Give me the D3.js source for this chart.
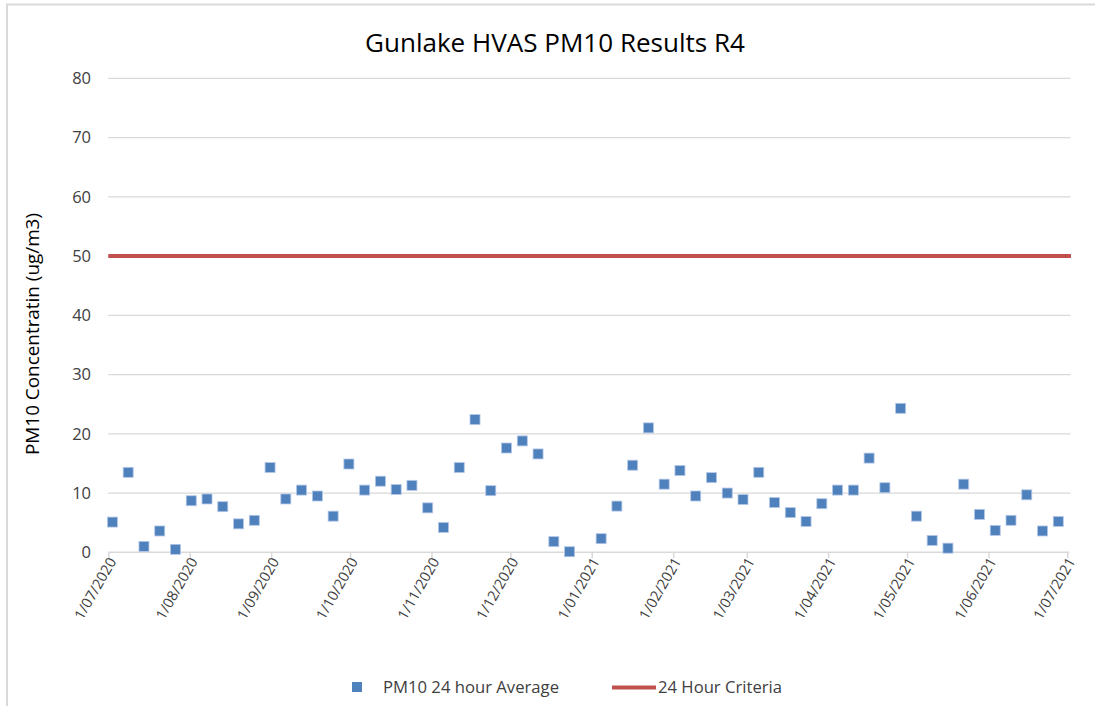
<!DOCTYPE html>
<html>
<head>
<meta charset="utf-8">
<script src="https://cdn.jsdelivr.net/npm/d3@7"></script>
<style>
  html, body { margin: 0; padding: 0; background: #fff; }
  svg text { font-family: "Open Sans", "Liberation Sans", sans-serif; fill: #404040; }
</style>
</head>
<body>
<svg id="chart" width="1095" height="706"></svg>
<script>
const sampleDates = [
  "2020-07-02","2020-07-08","2020-07-14","2020-07-20","2020-07-26",
  "2020-08-01","2020-08-07","2020-08-13","2020-08-19","2020-08-25",
  "2020-08-31","2020-09-06","2020-09-12","2020-09-18","2020-09-24",
  "2020-09-30","2020-10-06","2020-10-12","2020-10-18","2020-10-24",
  "2020-10-30","2020-11-05","2020-11-11","2020-11-17","2020-11-23",
  "2020-11-29","2020-12-05","2020-12-11","2020-12-17","2020-12-23",
  "2021-01-04","2021-01-10","2021-01-16","2021-01-22","2021-01-28",
  "2021-02-03","2021-02-09","2021-02-15","2021-02-21","2021-02-27",
  "2021-03-05","2021-03-11","2021-03-17","2021-03-23","2021-03-29",
  "2021-04-04","2021-04-10","2021-04-16","2021-04-22","2021-04-28",
  "2021-05-04","2021-05-10","2021-05-16","2021-05-22","2021-05-28",
  "2021-06-03","2021-06-09","2021-06-15","2021-06-21","2021-06-27"
];
const pm10Values = [
  5.1, 13.5, 1.0, 3.6, 0.5,
  8.7, 9.0, 7.7, 4.8, 5.4,
  14.3, 9.0, 10.5, 9.5, 6.1,
  14.9, 10.5, 12.0, 10.6, 11.3,
  7.5, 4.2, 14.3, 22.4, 10.4,
  17.6, 18.8, 16.6, 1.8, 0.1,
  2.3, 7.8, 14.7, 21.0, 11.5,
  13.8, 9.5, 12.6, 10.0, 8.9,
  13.5, 8.4, 6.7, 5.2, 8.2,
  10.5, 10.5, 15.9, 10.9, 24.3,
  6.1, 2.0, 0.7, 11.5, 6.4,
  3.7, 5.4, 9.7, 3.6, 5.2
];
const criteriaValue = 50;
const xTickDates = [
  "2020-07-01","2020-08-01","2020-09-01","2020-10-01","2020-11-01","2020-12-01",
  "2021-01-01","2021-02-01","2021-03-01","2021-04-01","2021-05-01","2021-06-01","2021-07-01"
];
const yTicks = [0, 10, 20, 30, 40, 50, 60, 70, 80];
const titleText = "Gunlake HVAS PM10 Results R4";
const yLabel = "PM10 Concentratin (ug/m3)";
const seriesNames = ["PM10 24 hour Average", "24 Hour Criteria"];

const parse = d3.timeParse("%Y-%m-%d");
const fmt = d => `${d.getDate()}/${d3.timeFormat("%m/%Y")(d)}`;
const data = sampleDates.map((d, i) => ({ date: parse(d), value: pm10Values[i] }));
const ticks = xTickDates.map(parse);

const svg = d3.select("#chart");
const x = d3.scaleTime().domain([parse("2020-07-01"), parse("2021-07-01")]).range([108.3, 1067.3]);
const y = d3.scaleLinear().domain([0, 80]).range([552.3, 78.3]);

// outer border
svg.append("path").attr("d", "M7,712 V4.5 H1100").attr("fill", "none")
  .attr("stroke", "#d9d9d9").attr("stroke-width", 2);

// title
svg.append("text").attr("x", 555).attr("y", 52).attr("text-anchor", "middle")
  .style("font-size", "25px").style("fill", "#000")
  .attr("textLength", 380).attr("lengthAdjust", "spacingAndGlyphs").text(titleText);

// gridlines
svg.append("g").selectAll("line").data(yTicks.filter(t => t > 0)).join("line")
  .attr("x1", 108.3).attr("x2", 1070.5)
  .attr("y1", d => y(d)).attr("y2", d => y(d))
  .attr("stroke", "#d9d9d9").attr("stroke-width", 1.3);

// y axis labels
const yAxis = d3.axisLeft(y).tickValues(yTicks).tickSize(0).tickPadding(0);
const gy = svg.append("g").attr("transform", "translate(91,0)").call(yAxis);
gy.select(".domain").remove();
gy.selectAll("text").style("font-size", "16.5px").style("fill", "#404040")
  .style("font-family", "'Open Sans', 'Liberation Sans', sans-serif");

// x axis
const xAxis = d3.axisBottom(x).tickValues(ticks).tickSize(6).tickFormat(fmt);
const gx = svg.append("g").attr("transform", `translate(0,${y(0)})`).call(xAxis);
gx.select(".domain").attr("d", `M${x.range()[0]},0H${x.range()[1] + 2}`)
  .attr("stroke", "#d9d9d9").attr("stroke-width", 1.5);
gx.selectAll(".tick line").attr("stroke", "#d9d9d9").attr("stroke-width", 1.5);
gx.selectAll("text")
  .style("font-size", "14.5px").style("fill", "#404040")
  .style("font-family", "'Open Sans', 'Liberation Sans', sans-serif")
  .attr("text-anchor", "end")
  .attr("dy", null).attr("y", 0)
  .attr("transform", "translate(8,9) rotate(-60)");

// y label
svg.append("text").attr("transform", "translate(39,334) rotate(-90)")
  .attr("text-anchor", "middle").style("font-size", "18.5px").style("fill", "#000")
  .attr("textLength", 242).attr("lengthAdjust", "spacingAndGlyphs")
  .text(yLabel);

// criteria line
svg.append("line").attr("x1", x.range()[0]).attr("x2", 1071)
  .attr("y1", y(criteriaValue)).attr("y2", y(criteriaValue))
  .attr("stroke", "#c0504d").attr("stroke-width", 4);

// points
const ms = 10;
svg.append("g").selectAll("rect").data(data).join("rect")
  .attr("x", d => x(d.date) - ms / 2 + 1.5).attr("y", d => y(d.value) - ms / 2)
  .attr("width", ms).attr("height", ms)
  .attr("fill", "#4f81bd").attr("stroke", "#b4c7e7").attr("stroke-width", 0.8);

// legend
const lg = svg.append("g");
lg.append("rect").attr("x", 352).attr("y", 682).attr("width", 10).attr("height", 10)
  .attr("fill", "#4f81bd");
lg.append("text").attr("x", 383).attr("y", 693).style("font-size", "16.5px").style("fill", "#404040")
  .attr("textLength", 176).attr("lengthAdjust", "spacingAndGlyphs").text(seriesNames[0]);
lg.append("line").attr("x1", 612).attr("x2", 656).attr("y1", 687.5).attr("y2", 687.5)
  .attr("stroke", "#c0504d").attr("stroke-width", 4);
lg.append("text").attr("x", 658).attr("y", 693).style("font-size", "16.5px").style("fill", "#404040")
  .attr("textLength", 124).attr("lengthAdjust", "spacingAndGlyphs").text(seriesNames[1]);
</script>
</body>
</html>
